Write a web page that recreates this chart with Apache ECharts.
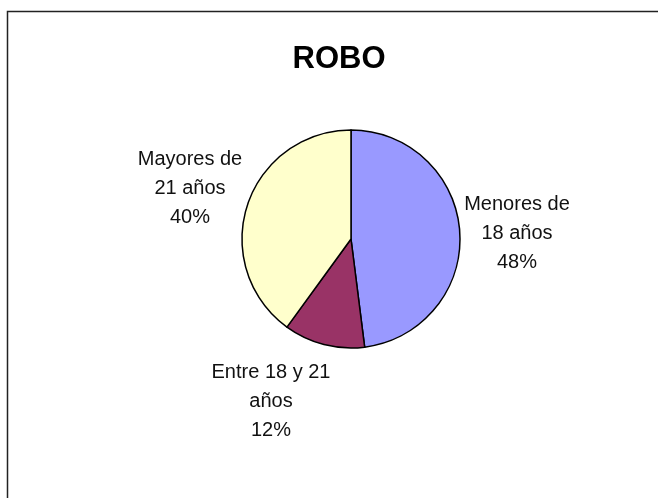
<!DOCTYPE html>
<html>
<head>
<meta charset="utf-8">
<script src="https://cdn.jsdelivr.net/npm/echarts@6/dist/echarts.min.js"></script>
<style>
html,body{margin:0;padding:0;background:#fff;}
#chart{width:658px;height:498px;}
</style>
</head>
<body>
<div id="chart"></div>
<script>
var titleText = 'ROBO';
var categories = ['Menores de 18 años', 'Entre 18 y 21 años', 'Mayores de 21 años'];
var labelTexts = ['Menores de\n18 años', 'Entre 18 y 21\naños', 'Mayores de\n21 años'];
var values = [48, 12, 40];
var colors = ['#9999FF', '#993366', '#FFFFCC'];

var labelPos = [
  {x: 517, y: 233},
  {x: 271, y: 401},
  {x: 190, y: 188}
];

var chart = echarts.init(document.getElementById('chart'), null, {renderer: 'canvas'});
var fontFam = '"Liberation Sans", Arial, sans-serif';
chart.setOption({
  animation: false,
  backgroundColor: '#ffffff',
  title: {
    text: titleText,
    left: 334,
    top: 39,
    textAlign: 'center',
    textStyle: {fontFamily: '"Liberation Sans", Arial, sans-serif', fontWeight: 'bold', fontSize: 31, color: '#000'}
  },
  graphic: [{
    type: 'rect',
    shape: {x: 7.5, y: 11.5, width: 700, height: 600},
    style: {fill: 'none', stroke: '#222', lineWidth: 1.5},
    silent: true
  }],
  series: [{
    type: 'pie',
    center: [351, 239],
    radius: [0, 109],
    startAngle: 90,
    clockwise: true,
    data: categories.map(function (c, i) {
      return {name: c, value: values[i], itemStyle: {color: colors[i]}};
    }),
    itemStyle: {borderColor: '#000', borderWidth: 1.5},
    label: {
      show: true,
      position: 'outside',
      formatter: function (p) { return labelTexts[p.dataIndex] + '\n' + p.percent.toFixed(0) + '%'; },
      fontFamily: fontFam,
      fontSize: 20,
      lineHeight: 29,
      color: '#111',
      align: 'center'
    },
    labelLine: {show: false},
    labelLayout: function (p) {
      var pos = labelPos[p.dataIndex];
      return {x: pos.x, y: pos.y, align: 'center', verticalAlign: 'middle'};
    },
    emphasis: {disabled: true}
  }]
});
</script>
</body>
</html>
